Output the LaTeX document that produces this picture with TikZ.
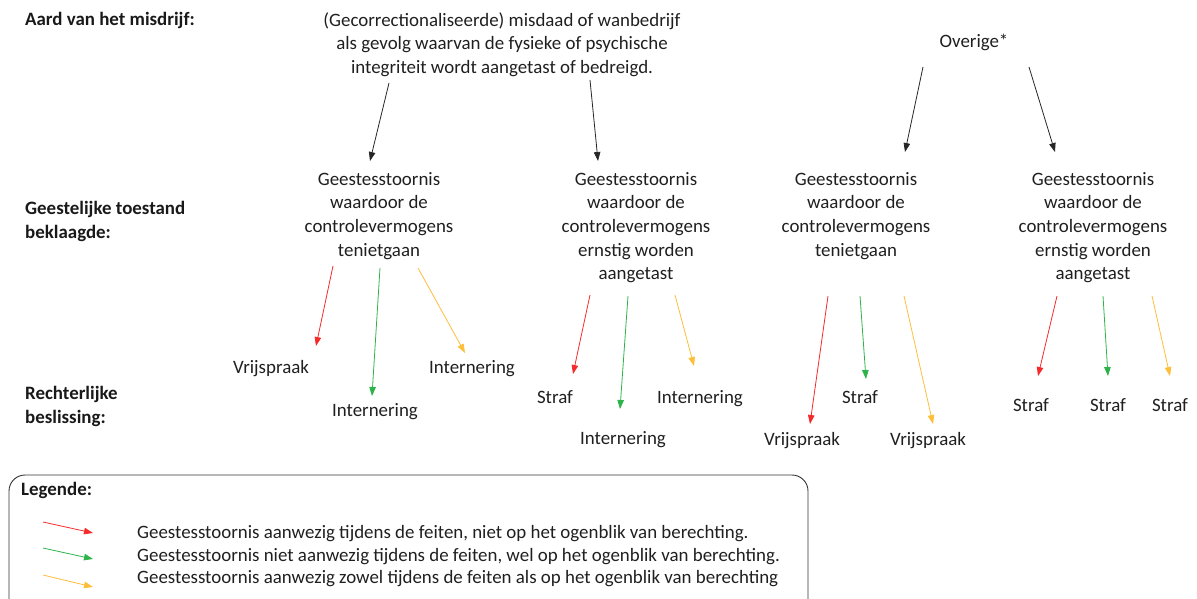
\documentclass[tikz,border=0pt]{standalone}
\usepackage{fontspec}
\setmainfont{Carlito}
\usetikzlibrary{arrows.meta}
\definecolor{cred}{HTML}{F52A2A}
\definecolor{cgreen}{HTML}{2DB34A}
\definecolor{cyellow}{HTML}{FDBE3A}
\tikzset{
  txt/.style={font=\fontsize{18.9}{23.6}\selectfont, align=center, inner sep=0pt, text=black!88},
  lbl/.style={font=\fontsize{18.9}{23.6}\selectfont\bfseries, align=left, inner sep=0pt, text=black!90},
  arr/.style={-{Triangle[width=6.5pt,length=9pt]}, line width=0.8pt},
  blk/.style={arr, draw=black!85},
  red/.style={arr, draw=cred},
  grn/.style={arr, draw=cgreen},
  ylw/.style={arr, draw=cyellow},
}
\begin{document}
\begin{tikzpicture}[x=1pt,y=-1pt]
\useasboundingbox (0,0) rectangle (1197,598);
\clip (0,0) rectangle (1197,598);
% labels
\node[lbl, anchor=north west] (aard) at (25,12) {Aard van het misdrijf:};
\node[lbl, anchor=north west] (geest) at (25,201) {Geestelijke toestand\\beklaagde:};
\node[lbl, anchor=north west] (recht) at (25,386) {Rechterlijke\\beslissing:};
% top
\node[txt, anchor=north] (top) at (502,12) {(Gecorrectionaliseerde) misdaad of wanbedrijf\\als gevolg waarvan de fysieke of psychische\\integriteit wordt aangetast of bedreigd.};
\node[txt, anchor=north] (ov) at (974,34) {Overige*};
% second level
\node[txt, anchor=north] (n1) at (379,172) {Geestesstoornis\\waardoor de\\controlevermogens\\tenietgaan};
\node[txt, anchor=north] (n2) at (636,172) {Geestesstoornis\\waardoor de\\controlevermogens\\ernstig worden\\aangetast};
\node[txt, anchor=north] (n3) at (856,172) {Geestesstoornis\\waardoor de\\controlevermogens\\tenietgaan};
\node[txt, anchor=north] (n4) at (1093,172) {Geestesstoornis\\waardoor de\\controlevermogens\\ernstig worden\\aangetast};
% outcomes
\node[txt] (o11) at (271,369) {Vrijspraak};
\node[txt] (o12) at (375,412) {Internering};
\node[txt] (o13) at (472,369) {Internering};
\node[txt] (o21) at (555,397) {Straf};
\node[txt] (o22) at (623,440) {Internering};
\node[txt] (o23) at (700,399) {Internering};
\node[txt] (o31) at (802,441) {Vrijspraak};
\node[txt] (o32) at (860,397) {Straf};
\node[txt] (o33) at (928,441) {Vrijspraak};
\node[txt] (o41) at (1031,405) {Straf};
\node[txt] (o42) at (1108,405) {Straf};
\node[txt] (o43) at (1170,405) {Straf};
% black arrows
\coordinate (t1) at (389,83); \coordinate (e1) at (370,161);
\coordinate (t2) at (590,80); \coordinate (e2) at (598,161);
\coordinate (t3) at (923,67); \coordinate (e3) at (905,152);
\coordinate (t4) at (1029,67); \coordinate (e4) at (1055,152);
\draw[blk] (t1) -- (e1);
\draw[blk] (t2) -- (e2);
\draw[blk] (t3) -- (e3);
\draw[blk] (t4) -- (e4);
% group 1
\coordinate (a11) at (333,266); \coordinate (b11) at (316,346);
\coordinate (a12) at (380,268); \coordinate (b12) at (372,396);
\coordinate (a13) at (418,268); \coordinate (b13) at (465,353);
\draw[red] (a11) -- (b11);
\draw[grn] (a12) -- (b12);
\draw[ylw] (a13) -- (b13);
% group 2
\coordinate (a21) at (590,295); \coordinate (b21) at (573,374);
\coordinate (a22) at (628,296); \coordinate (b22) at (620,409);
\coordinate (a23) at (675,295); \coordinate (b23) at (694,366);
\draw[red] (a21) -- (b21);
\draw[grn] (a22) -- (b22);
\draw[ylw] (a23) -- (b23);
% group 3
\coordinate (a31) at (828,296); \coordinate (b31) at (810,424);
\coordinate (a32) at (860,296); \coordinate (b32) at (866,379);
\coordinate (a33) at (904,296); \coordinate (b33) at (933,424);
\draw[red] (a31) -- (b31);
\draw[grn] (a32) -- (b32);
\draw[ylw] (a33) -- (b33);
% group 4
\coordinate (a41) at (1057,296); \coordinate (b41) at (1038,376);
\coordinate (a42) at (1103,296); \coordinate (b42) at (1108,376);
\coordinate (a43) at (1152,296); \coordinate (b43) at (1170,376);
\draw[red] (a41) -- (b41);
\draw[grn] (a42) -- (b42);
\draw[ylw] (a43) -- (b43);
% legend
\draw[black!80, line width=0.9pt, rounded corners=16pt] (9,475) rectangle (808,615);
\node[lbl, anchor=north west] (leg) at (21,482) {Legende:};
\coordinate (l1a) at (43,522); \coordinate (l1b) at (93,533);
\coordinate (l2a) at (43,548); \coordinate (l2b) at (93,559);
\coordinate (l3a) at (43,575); \coordinate (l3b) at (93,587);
\draw[red] (l1a) -- (l1b);
\draw[grn] (l2a) -- (l2b);
\draw[ylw] (l3a) -- (l3b);
\node[txt, anchor=west] (lt1) at (137,534) {Geestesstoornis aanwezig tijdens de feiten, niet op het ogenblik van berechting.};
\node[txt, anchor=west] (lt2) at (137,557) {Geestesstoornis niet aanwezig tijdens de feiten, wel op het ogenblik van berechting.};
\node[txt, anchor=west] (lt3) at (137,579) {Geestesstoornis aanwezig zowel tijdens de feiten als op het ogenblik van berechting};
\end{tikzpicture}
\end{document}
